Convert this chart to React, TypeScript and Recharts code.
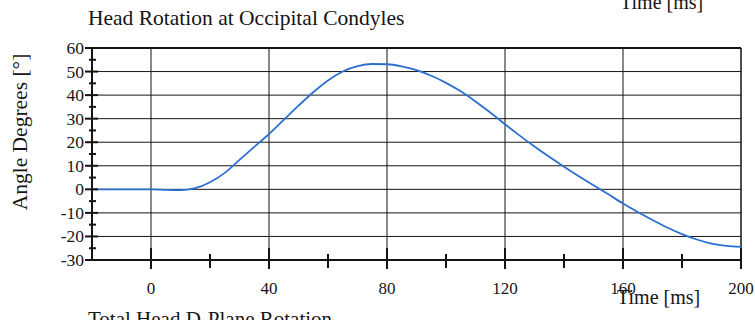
import { LineChart, Line, XAxis, YAxis, ReferenceLine } from "recharts";

// time (ms) and head rotation angle (deg)
const times = [
  -20, -15, -10, -5, 0, 5, 10, 15, 20, 25, 30, 35, 40, 45, 50, 55, 60, 65, 70, 75, 80, 85, 90,
  95, 100, 105, 110, 115, 120, 125, 130, 135, 140, 145, 150, 155, 160, 165, 170, 175, 180, 185,
  190, 195, 200,
];
const angles = [
  0, 0, 0, 0, 0, -0.2, -0.3, 0.5, 3, 7, 12.5, 18, 23.5, 29.5, 35.5, 41.2, 46.2, 50, 52.3, 53.2,
  53.1, 52.2, 50.6, 48.2, 45.2, 41.6, 37.3, 32.6, 27.6, 22.8, 18.2, 13.8, 9.6, 5.6, 1.7, -2.1,
  -6, -9.6, -13, -16.2, -19, -21.3, -23, -24, -24.4,
];

const xTicks = [0, 20, 40, 60, 80, 100, 120, 140, 160, 180, 200];
const xGrid = [0, 40, 80, 120, 160];
const yTicks = [-30, -25, -20, -15, -10, -5, 0, 5, 10, 15, 20, 25, 30, 35, 40, 45, 50, 55, 60];
const yGrid = [-20, -10, 0, 10, 20, 30, 40, 50];

const data = times.map((t, i) => ({ t, angle: angles[i] }));

const serif = "'Liberation Serif', 'DejaVu Serif', Times, serif";
const ink = "#151515";

const XTick = (props: any) => {
  const { x, y, payload } = props;
  const v = payload.value;
  const major = v % 40 === 0;
  return (
    <g>
      <line x1={x} x2={x} y1={major ? y - 12 : y - 6} y2={major ? y + 9 : y + 8} stroke={ink} strokeWidth={2} />
      {major && (
        <text x={x} y={y + 34} textAnchor="middle" fontFamily={serif} fontSize={17} fill={ink}>
          {v}
        </text>
      )}
    </g>
  );
};

const YTick = (props: any) => {
  const { x, y, payload } = props;
  const v = payload.value;
  const major = v % 10 === 0;
  return (
    <g>
      <line x1={major ? x - 7 : x - 3} x2={major ? x + 6 : x + 4} y1={y} y2={y} stroke={ink} strokeWidth={2} />
      {major && (
        <text x={x - 8} y={y + 6} textAnchor="end" fontFamily={serif} fontSize={17.5} fill={ink}>
          {v}
        </text>
      )}
    </g>
  );
};

export default function App() {
  return (
    <div style={{ position: "absolute", left: 0, top: 0, width: 755, height: 320, background: "#fff", overflow: "hidden", fontFamily: serif, color: ink }}>
      <div style={{ position: "absolute", left: 88, top: 6, fontSize: 21.5, whiteSpace: "nowrap" }}>
        Head Rotation at Occipital Condyles
      </div>
      <div style={{ position: "absolute", left: 620, top: -9, fontSize: 20, whiteSpace: "nowrap" }}>
        Time [ms]
      </div>
      <div style={{ position: "absolute", left: 617, top: 286, fontSize: 20, whiteSpace: "nowrap" }}>
        Time [ms]
      </div>
      <div style={{ position: "absolute", left: 88, top: 307, fontSize: 21, whiteSpace: "nowrap" }}>
        Total Head D-Plane Rotation
      </div>
      <div
        style={{
          position: "absolute",
          left: 20,
          top: 132,
          fontSize: 21.5,
          whiteSpace: "nowrap",
          transform: "translate(-50%, -50%) rotate(-90deg)",
        }}
      >
        Angle Degrees [°]
      </div>
      <LineChart width={755} height={320} data={data} margin={{ top: 48, right: 14, bottom: 30, left: 0 }}>
        <XAxis
          dataKey="t"
          type="number"
          domain={[-20, 200]}
          ticks={xTicks}
          interval={0}
          height={30}
          tickSize={0}
          tickMargin={0}
          tickLine={false}
          axisLine={{ stroke: ink, strokeWidth: 2 }}
          tick={<XTick />}
        />
        <YAxis
          type="number"
          domain={[-30, 60]}
          ticks={yTicks}
          interval={0}
          width={92}
          tickSize={0}
          tickMargin={0}
          tickLine={false}
          axisLine={{ stroke: ink, strokeWidth: 2 }}
          tick={<YTick />}
        />
        {yGrid.map((v) => (
          <ReferenceLine key={"h" + v} y={v} stroke={ink} strokeWidth={1} />
        ))}
        {xGrid.map((v) => (
          <ReferenceLine key={"v" + v} x={v} stroke={ink} strokeWidth={1} />
        ))}
        <ReferenceLine y={60} stroke={ink} strokeWidth={2} />
        <ReferenceLine x={200} stroke={ink} strokeWidth={1.5} />
        <Line
          type="monotone"
          dataKey="angle"
          stroke="#2b6fd3"
          strokeWidth={1.8}
          dot={false}
          isAnimationActive={false}
        />
      </LineChart>
    </div>
  );
}
